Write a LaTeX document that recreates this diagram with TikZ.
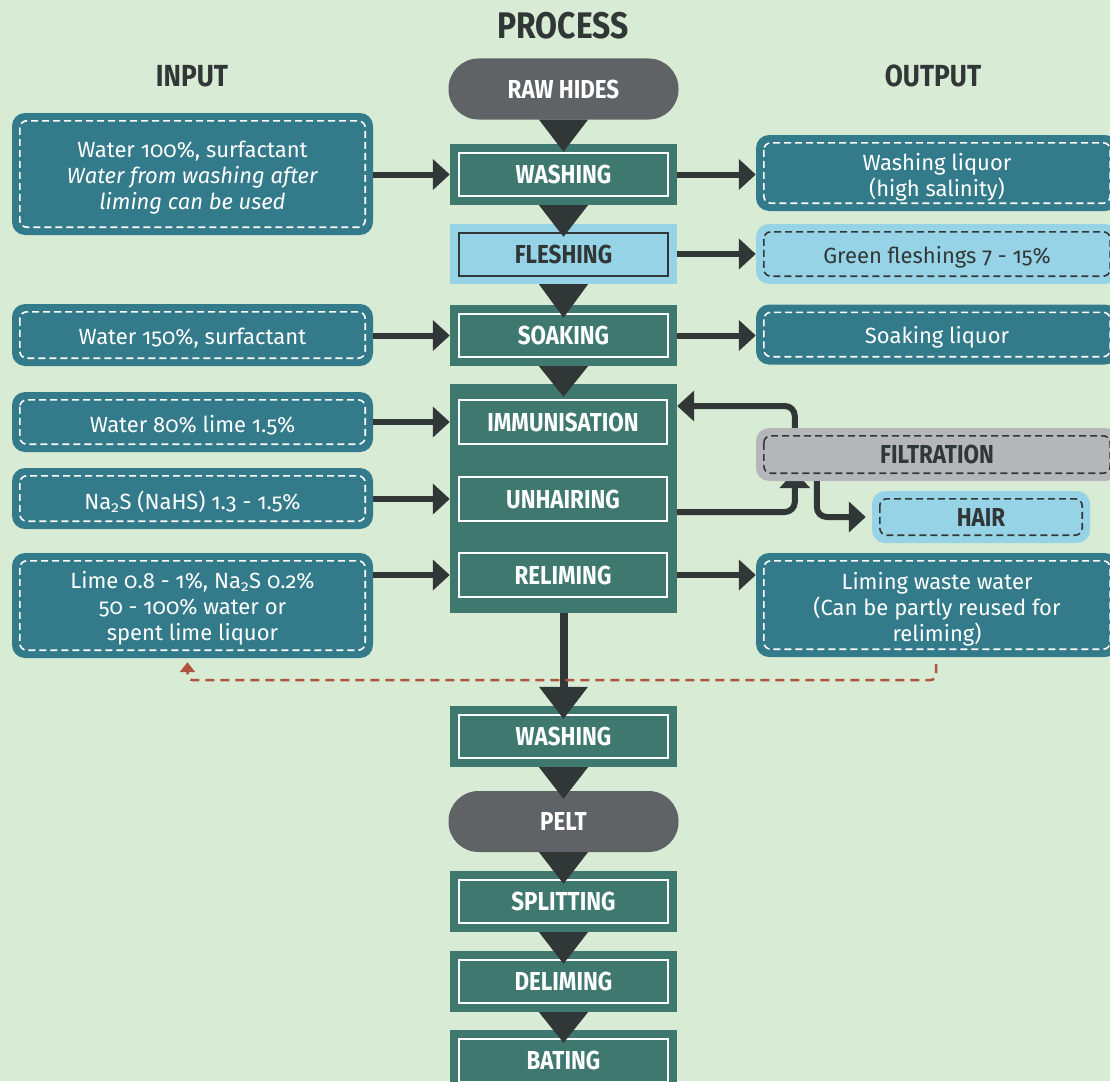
\documentclass[tikz,border=0pt]{standalone}
\usepackage{fontspec}
\setmainfont{Fira Sans}[Numbers=OldStyle,FakeStretch=0.86]
\newfontfamily\bodyfont{Fira Sans}[Numbers=OldStyle]
\usetikzlibrary{arrows.meta,calc}
\definecolor{bgc}{RGB}{216,235,213}
\definecolor{procc}{RGB}{62,120,111}
\definecolor{inc}{RGB}{51,123,138}
\definecolor{darkc}{RGB}{49,55,55}
\definecolor{pillc}{RGB}{95,99,102}
\definecolor{lblue}{RGB}{151,211,230}
\definecolor{filtc}{RGB}{181,182,186}
\definecolor{redc}{RGB}{176,83,63}
\newcommand\lblfont{\bfseries\fontsize{26}{30}\selectfont}
\newcommand\txtfont{\bodyfont\fontsize{22}{26}\selectfont}
\pgfdeclarelayer{bgl}\pgfdeclarelayer{under}
\pgfsetlayers{bgl,under,main}
\begin{document}
\begin{tikzpicture}[x=1pt,y=-1pt,
  procbox/.style={rectangle, fill=procc, minimum width=227, minimum height=61, inner sep=0, text=white, font=\lblfont},
  subbox/.style={rectangle, draw=white, line width=1.6pt, minimum width=208, minimum height=44, inner sep=0, text=white, font=\lblfont},
  pill/.style={rectangle, rounded corners=30pt, fill=pillc, minimum width=230, minimum height=61, inner sep=0, text=white, font=\lblfont},
  inbox/.style={rectangle, rounded corners=13pt, fill=inc, minimum width=361, inner sep=0, text=white, font=\txtfont, align=center},
  outbox/.style={inbox, minimum width=362},
  lbbox/.style={outbox, fill=lblue, text=darkc},
  txt/.style={font=\txtfont, align=center, inner sep=0, text=white},
  dtxt/.style={txt, text=darkc},
  wdash/.style={draw=white, line width=1.6pt, dash pattern=on 7pt off 4pt, rounded corners=7pt},
  ddash/.style={draw=darkc, line width=1.6pt, dash pattern=on 7pt off 4pt, rounded corners=7pt},
  arr/.style={draw=darkc, line width=6pt, -{Triangle[length=17pt,width=30pt]}},
  reddash/.style={draw=redc, line width=2.5pt, dash pattern=on 9pt off 6pt},
  head/.style={font=\bfseries\fontsize{30.5}{34}\selectfont, text=darkc}
]
\useasboundingbox (0,0) rectangle (1110,1081);
\clip (0,0) rectangle (1110,1081);
\begin{pgfonlayer}{bgl}
\fill[bgc] (0,0) rectangle (1110,1081);
\end{pgfonlayer}

% headings
\node[font=\bfseries\fontsize{37}{42}\selectfont, text=darkc] (title) at (563,26) {PROCESS};
\node[head] (inhead) at (192,76) {INPUT};
\node[head] (outhead) at (933,76) {OUTPUT};

% process column
\node[pill] (raw) at (563.5,89) {RAW HIDES};
\node[procbox] (wash1) at (563.5,174.5) {WASHING};
\node[procbox, fill=lblue, text=darkc, minimum height=60] (flesh) at (563.5,254) {FLESHING};
\node[procbox] (soak) at (563.5,335.5) {SOAKING};
\node[procbox, minimum height=229] (big) at (563.5,498.5) {};
\node[subbox] (immun) at (563,422) {IMMUNISATION};
\node[subbox] (unhair) at (563,499) {UNHAIRING};
\node[subbox] (relim) at (563,575) {RELIMING};
\node[procbox] (wash2) at (563.5,736.5) {WASHING};
\node[pill] (pelt) at (563.5,821.5) {PELT};
\node[procbox] (split) at (563.5,901.5) {SPLITTING};
\node[procbox] (delim) at (563.5,981.5) {DELIMING};
\node[procbox] (bating) at (563.5,1060.5) {BATING};

\foreach \n in {wash1,soak,wash2,split,delim,bating}
  \draw[white, line width=1.6pt] ([shift={(9,9)}]\n.north west) rectangle ([shift={(-9,-9)}]\n.south east);
\draw[darkc, line width=2pt] ([shift={(9,9)}]flesh.north west) rectangle ([shift={(-9,-8)}]flesh.south east);

% input boxes
\node[inbox, minimum height=122] (in1) at (192.5,174) {};
\node[inbox, minimum height=62] (in2) at (192.5,335) {};
\node[inbox, minimum height=60] (in3) at (192.5,422) {};
\node[inbox, minimum height=61] (in4) at (192.5,498.5) {};
\node[inbox, minimum height=105] (in5) at (192.5,605.5) {};
\node[txt] (in1t) at ($(in1)+(0,4)$) {Water 100\%, surfactant\\ \textit{Water from washing after}\\ \textit{liming can be used}};
\node[txt] (in2t) at ($(in2)+(0,3)$) {Water 150\%, surfactant};
\node[txt] (in3t) at ($(in3)+(0,3)$) {Water 80\% lime 1.5\%};
\node[txt] (in4t) at ($(in4)+(0,3)$) {Na\textsubscript{2}S (NaHS) 1.3 - 1.5\%};
\node[txt] (in5t) at ($(in5)+(0,3)$) {Lime 0.8 - 1\%, Na\textsubscript{2}S 0.2\%\\ 50 - 100\% water or\\ spent lime liquor};

% output boxes
\node[outbox, minimum height=76] (o1) at (937,173) {};
\node[lbbox, minimum height=60] (o2) at (937,254) {};
\node[outbox, minimum height=60] (o3) at (937,334.5) {};
\node[outbox, fill=filtc, text=darkc, font=\lblfont, minimum height=53] (filt) at (937,454.5) {FILTRATION};
\node[lbbox, minimum width=218, minimum height=52, font=\lblfont] (hair) at (981,517) {HAIR};
\node[outbox, minimum height=104] (o4) at (937,605) {};
\node[txt] (o1t) at ($(o1)+(0,4)$) {Washing liquor\\ (high salinity)};
\node[dtxt] (o2t) at ($(o2)+(0,3)$) {Green fleshings 7 - 15\%};
\node[txt] (o3t) at ($(o3)+(0,3)$) {Soaking liquor};
\node[txt] (o4t) at ($(o4)+(0,4)$) {Liming waste water\\ (Can be partly reused for\\ reliming)};

\foreach \n in {in1,in2,in3,in4,in5,o1,o3,o4}
  \draw[wdash] ([shift={(8,8)}]\n.north west) rectangle ([shift={(-8,-8)}]\n.south east);
\foreach \n in {o2,filt,hair}
  \draw[ddash] ([shift={(8,8)}]\n.north west) rectangle ([shift={(-8,-8)}]\n.south east);

% flow triangles
\foreach \a/\b/\o in {raw/wash1/8, wash1/flesh/13, flesh/soak/13, soak/big/13, wash2/pelt/8, pelt/split/13, split/delim/13, delim/bating/13}
  \fill[darkc] ($(\a.south)+(-24.5,0)$) -- ($(\a.south)+(24.5,0)$) -- ($(\b.north)+(0,\o)$) -- cycle;
\draw[darkc, line width=8pt] (big.south) -- ($(wash2.north)+(0,-10)$);
\fill[darkc] ($(wash2.north)+(-24.5,-19)$) -- ($(wash2.north)+(24.5,-19)$) -- ($(wash2.north)+(0,13)$) -- cycle;

% input arrows
\draw[arr] (in1.east |- wash1) -- (wash1.west);
\draw[arr] (in2.east |- soak) -- (soak.west);
\draw[arr] (in3.east |- immun) -- (big.west |- immun);
\draw[arr] (in4.east |- unhair) -- (big.west |- unhair);
\draw[arr] (in5.east |- relim) -- (big.west |- relim);

% output arrows
\draw[arr] (wash1.east) -- (o1.west |- wash1);
\draw[arr] (flesh.east) -- (o2.west |- flesh);
\draw[arr] (soak.east) -- (o3.west |- soak);
\draw[arr] (big.east |- relim) -- (o4.west |- relim);

% filtration loop
\begin{pgfonlayer}{under}
\draw[arr, rounded corners=10pt] ($(big.east |- unhair)+(0,13)$) -| ($(filt.south west)+(39,-10)$);
\end{pgfonlayer}
\draw[arr, rounded corners=10pt] ($(filt.north west)+(39,0)$) |- ($(big.east |- immun)+(0,-16)$);
\draw[arr, rounded corners=10pt] ($(filt.south west)+(61,0)$) |- ($(hair.west)+(-6,0)$);

% reuse loop
\draw[reddash, rounded corners=6pt, -{Triangle[length=10pt,width=15pt]}] ($(o4.south)+(-1,7)$) -- ($(o4.south)+(-1,23)$) -| ($(in5.south)+(-5,4)$);
\end{tikzpicture}
\end{document}
